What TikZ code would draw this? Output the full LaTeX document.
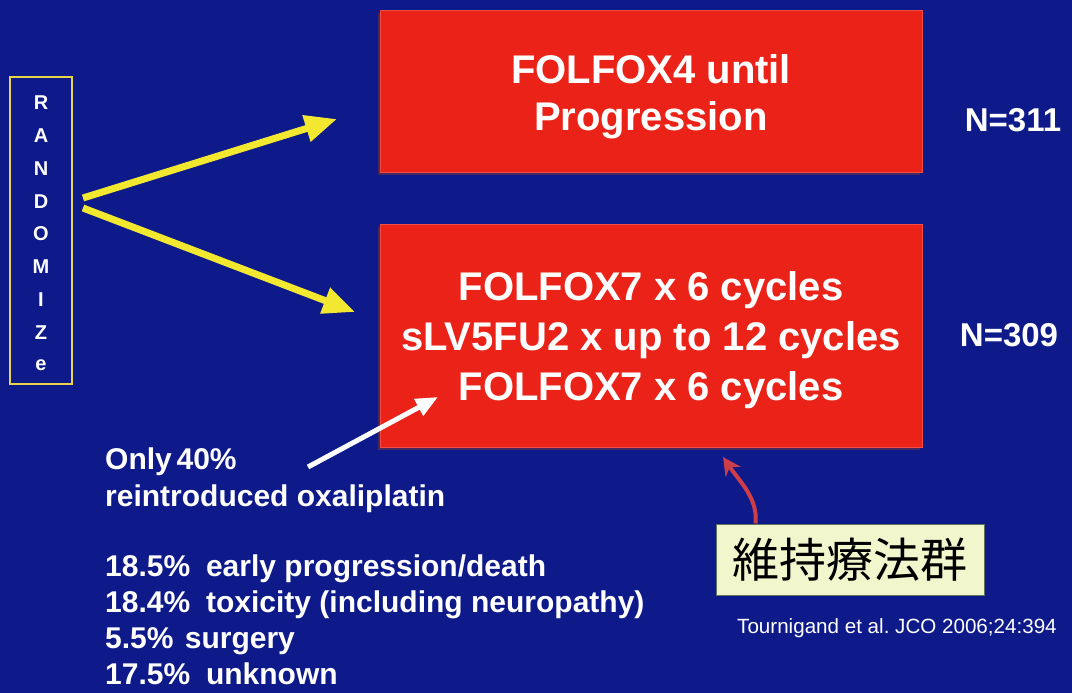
\documentclass[tikz,border=0pt]{standalone}
\usepackage{fontspec}
\setmainfont{Liberation Sans}
\newfontfamily\cjk{Noto Sans CJK JP}
\usetikzlibrary{arrows.meta}

\definecolor{slidebg}{RGB}{14,26,138}
\definecolor{armred}{RGB}{234,34,24}
\definecolor{armshadow}{RGB}{70,40,95}
\definecolor{ylw}{RGB}{242,232,48}
\definecolor{frameylw}{RGB}{232,212,70}
\definecolor{notefill}{RGB}{242,246,204}
\definecolor{noteedge}{RGB}{95,115,95}
\definecolor{curvered}{RGB}{206,62,72}

\tikzset{
  armbox/.style={fill=armred, draw=armred!80!white, line width=0.8pt, inner sep=0pt},
  armtext/.style={text=white, align=center, inner sep=0pt},
  armshade/.style={fill=armshadow},
  countlabel/.style={text=white, font=\fontsize{33}{33}\selectfont\bfseries, inner sep=0pt},
  randletter/.style={text=white, font=\fontsize{20}{20}\selectfont\bfseries, inner sep=0pt},
  noteline/.style={text=white, font=\fontsize{30}{30}\selectfont\bfseries, anchor=base west, inner sep=0pt},
  yarrow/.style={draw=ylw, line width=7pt, -{Triangle[length=32pt,width=26pt]}},
  warrow/.style={draw=white, line width=5pt, -{Triangle[length=22pt,width=18pt]}},
  carrow/.style={draw=curvered, line width=4pt, -{Stealth[length=18pt,width=18pt,inset=6pt]}},
}

\begin{document}
\begin{tikzpicture}[x=1pt,y=-1pt]
  % slide background
  \fill[slidebg] (0,0) rectangle (1072,693);
  \useasboundingbox (0,0) rectangle (1072,693);

  % randomization frame with stacked letters
  \node[draw=frameylw, line width=2.5pt, minimum width=62pt, minimum height=307pt,
        inner sep=0pt] (rand) at (41,230.5) {};
  \foreach \l [count=\i] in {R,A,N,D,O,M,I,Z,e}
    \node[randletter] (rl\i) at (41,{103+(\i-1)*32.75}) {\l};

  % treatment arms (soft shadow underneath)
  \fill[armshade] (378,13) rectangle (920,175);
  \node[armbox, minimum width=542pt, minimum height=162pt] (arm1) at (651,91) {};
  \node[armtext, font=\fontsize{40}{47}\selectfont\bfseries] (arm1txt)
    at ([yshift=-6pt]arm1.center) {FOLFOX4 until\\Progression};
  \fill[armshade] (378,227) rectangle (920,450);
  \node[armbox, minimum width=542pt, minimum height=223pt] (arm2) at (651,335.5) {};
  \node[armtext, font=\fontsize{40}{50}\selectfont\bfseries] (arm2txt)
    at ([yshift=-5pt]arm2.center)
    {FOLFOX7 x 6 cycles\\sLV5FU2 x up to 12 cycles\\FOLFOX7 x 6 cycles};

  % patient numbers
  \node[countlabel] (n1) at (1013,120) {N=311};
  \node[countlabel] (n2) at (1009,335) {N=309};

  % randomization arrows
  \coordinate (ya) at (83,198);
  \coordinate (yb) at (83,208);
  \coordinate (yta) at (337,119);
  \coordinate (ytb) at (355,312);
  \draw[yarrow] (ya) -- (yta);
  \draw[yarrow] (yb) -- (ytb);

  % notes on reintroduction and stopping reasons
  \node[noteline] (o1) at (105,469) {Only\hspace{-0.12em} 40\%};
  \node[noteline] (o2) at (105,506) {reintroduced oxaliplatin};
  \node[noteline] (r1) at (105,576) {18.5\%\hspace{0.25em} early progression/death};
  \node[noteline] (r2) at (105,612) {18.4\%\hspace{0.25em} toxicity (including neuropathy)};
  \node[noteline] (r3) at (105,648) {5.5\%\hspace{0.1em} surgery};
  \node[noteline] (r4) at (105,684) {17.5\%\hspace{0.25em} unknown};

  \coordinate (wa) at (308,467);
  \coordinate (wt) at (438,397);
  \draw[warrow] (wa) -- (wt);

  % maintenance label
  \node[fill=notefill, draw=noteedge, line width=1pt, minimum width=268pt,
        minimum height=71pt, inner sep=0pt] (maint) at (850,559.5)
    {\cjk\fontsize{47}{47}\selectfont 維持療法群};
  \coordinate (ct) at (723,457);
  \draw[carrow] ([xshift=40pt]maint.north west)
    .. controls (758,498) and (740,482) .. (ct);

  % reference
  \node[text=white, font=\fontsize{20.6}{24}\selectfont, anchor=west, inner sep=0pt]
    (cite) at (737,628) {Tournigand et al.\ JCO 2006;24:394};
\end{tikzpicture}
\end{document}
